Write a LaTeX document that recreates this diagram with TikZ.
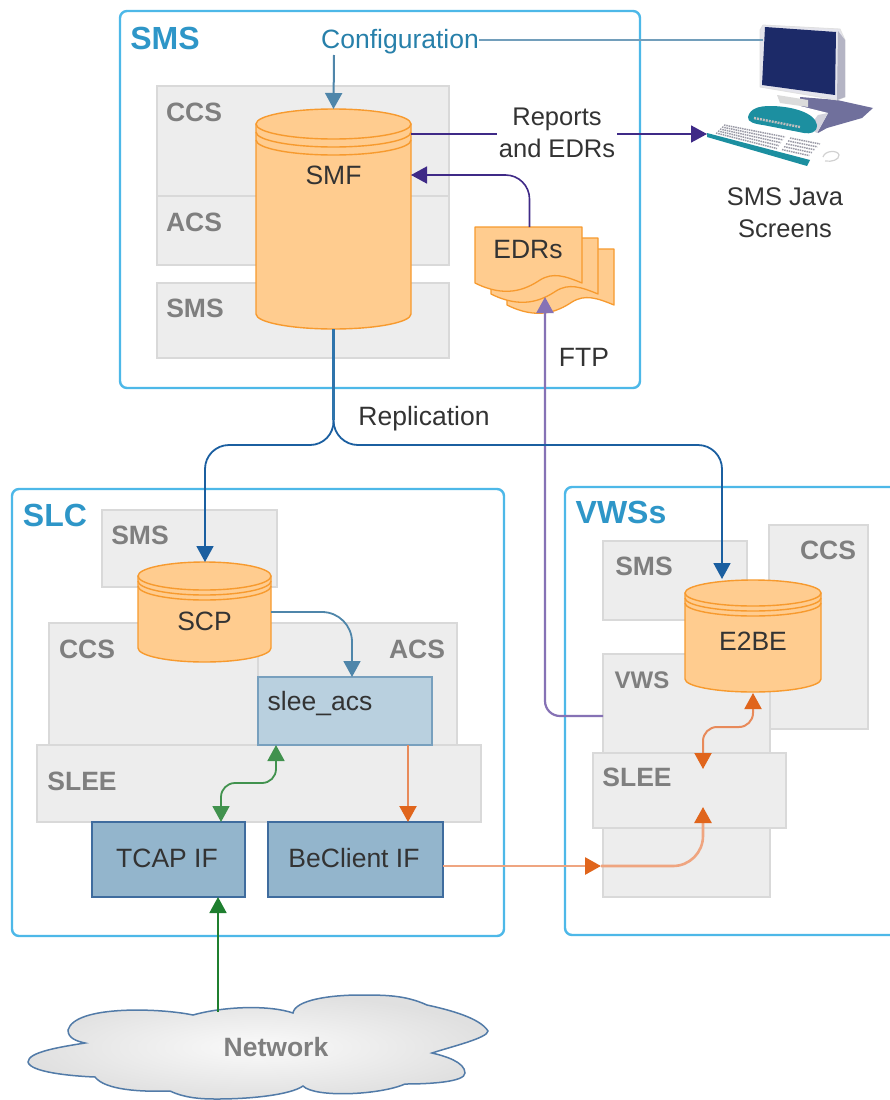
\documentclass[tikz,border=0pt]{standalone}
\usepackage{fontspec}
\setmainfont{Liberation Sans}
\usetikzlibrary{arrows.meta,calc}
\definecolor{grayfill}{HTML}{EDEDED}
\definecolor{grayline}{HTML}{D9D9D9}
\definecolor{graytext}{HTML}{7F7F7F}
\definecolor{skyline}{HTML}{4DB8E8}
\definecolor{titleblue}{HTML}{2E96C8}
\definecolor{cylfill}{HTML}{FFCC8F}
\definecolor{cylline}{HTML}{F79A2E}
\definecolor{textdark}{HTML}{333333}
\definecolor{aqua}{HTML}{4F86AA}
\definecolor{repl}{HTML}{1B5FA0}
\definecolor{replstem}{HTML}{2E74AC}
\definecolor{deepviolet}{HTML}{3F2A87}
\definecolor{softviolet}{HTML}{8672B5}
\definecolor{greenflow}{HTML}{1F7F2F}
\definecolor{orangetip}{HTML}{E0651C}
\definecolor{orangeline}{HTML}{E88A5A}
\definecolor{orangesoft}{HTML}{EFA580}
\definecolor{ifFill}{HTML}{93B5CC}
\definecolor{ifLine}{HTML}{3F6C9E}
\definecolor{acsFill}{HTML}{B9D0DF}
\definecolor{acsLine}{HTML}{78A0BE}
\definecolor{pcshadow}{HTML}{70709C}
\definecolor{pcbezel}{HTML}{E4E4EC}
\definecolor{pcside}{HTML}{B4B4C4}
\definecolor{pcscreen}{HTML}{1C2A68}
\definecolor{pcteal}{HTML}{1C8FA0}
\definecolor{pckey}{HTML}{9A9AA6}
\tikzset{
  x=1pt,y=-1pt,
  outerbox/.style={draw=skyline,line width=2.4pt,rounded corners=7pt},
  graybox/.style={draw=grayline,fill=grayfill,line width=1.2pt},
  ifbox/.style={draw=ifLine,fill=ifFill,line width=1.6pt},
  acsbox/.style={draw=acsLine,fill=acsFill,line width=1.2pt},
  title/.style={font=\fontsize{32}{34}\selectfont\bfseries,text=titleblue,inner sep=0pt},
  graylabel/.style={font=\fontsize{26.5}{28}\selectfont\bfseries,text=graytext,inner sep=0pt},
  darklabel/.style={font=\fontsize{26.5}{28}\selectfont,text=textdark,inner sep=0pt},
  flowtip/.style={-{Triangle[length=16pt,width=17pt]}},
  bothtip/.style={{Triangle[length=16pt,width=17pt]}-{Triangle[length=16pt,width=17pt]}},
  orangehead/.style={-{Triangle[length=16pt,width=17pt,color=orangetip,fill=orangetip]}},
  orangeboth/.style={{Triangle[length=16pt,width=17pt,color=orangetip,fill=orangetip]}-{Triangle[length=16pt,width=17pt,color=orangetip,fill=orangetip]}},
}
% box: style, name, x1,y1,x2,y2
\newcommand\pixbox[6]{%
  \node[#1,inner sep=0pt,outer sep=0pt,anchor=north west,
    minimum width={(#5-#3)*1pt},minimum height={(#6-#4)*1pt}] (#2) at (#3,#4) {};}
% cylinder: name,x1,ytop(outer),x2,ybottom(outer),ry,gap,label,labely
\newcommand\dbcyl[9]{%
  \pgfmathsetmacro\cx{(#2+#4)/2}\pgfmathsetmacro\rx{(#4-#2)/2}
  \pgfmathsetmacro\kx{0.5523*\rx}\pgfmathsetmacro\ky{0.5523*#6}
  \pgfmathsetmacro\yc{#3+#6}\pgfmathsetmacro\yb{#5-#6}
  \pgfmathsetmacro\ya{\yc+#7}\pgfmathsetmacro\yd{\yc+2*#7}
  \begin{scope}[draw=cylline,line width=1.4pt,line join=round]
  \draw[fill=cylfill] (#2,\yc) -- (#2,\yb)
    .. controls (#2,\yb+\ky) and (\cx-\kx,#5) .. (\cx,#5)
    .. controls (\cx+\kx,#5) and (#4,\yb+\ky) .. (#4,\yb)
    -- (#4,\yc) -- cycle;
  \draw[fill=cylfill] (\cx,\yc) ellipse [x radius=\rx,y radius=#6];
  \draw (#2,\ya) .. controls (#2,\ya+\ky) and (\cx-\kx,\ya+#6) .. (\cx,\ya+#6)
    .. controls (\cx+\kx,\ya+#6) and (#4,\ya+\ky) .. (#4,\ya);
  \draw (#2,\yd) .. controls (#2,\yd+\ky) and (\cx-\kx,\yd+#6) .. (\cx,\yd+#6)
    .. controls (\cx+\kx,\yd+#6) and (#4,\yd+\ky) .. (#4,\yd);
  \end{scope}
  \node[inner sep=0pt,outer sep=0pt,anchor=north west,
    minimum width={(#4-#2)*1pt},minimum height={(#5-#3)*1pt}] (#1) at (#2,#3) {};
  \node[darklabel] (#1label) at (\cx,#9) {#8};}
% one EDR sheet
\newcommand\edrsheet[2]{%
  \draw[draw=cylline,fill=cylfill,line width=1.3pt,line join=round,shift={(#1,#2)}]
    (475,227) -- (582,227) -- (582,283)
    .. controls (565,276) and (553,272) .. (540,280)
    .. controls (525,290) and (505,298) .. (475,283) -- cycle;}
\begin{document}
\begin{tikzpicture}
\useasboundingbox (0,0) rectangle (890,1100);
\fill[white] (0,0) rectangle (890,1100);

% ---- SMS area
\pixbox{outerbox}{smsouter}{120}{11}{640}{388}
\pixbox{graybox}{ccsa}{157}{86}{449}{223}
\pixbox{graybox}{acsa}{157}{196}{449}{265}
\pixbox{graybox}{smsa}{157}{283}{449}{358}
\node[title] (smstitle) at (165,38) {SMS};
\node[graylabel] (ccsalabel) at (194,112) {CCS};
\node[graylabel] (acsalabel) at (194,222) {ACS};
\node[graylabel] (smsalabel) at (195,308) {SMS};

% ---- SLC area
\pixbox{outerbox}{slcouter}{12}{489}{504}{936}
\pixbox{graybox}{smsb}{102}{510}{277}{587}
\pixbox{graybox}{ccsb}{49}{623}{258}{745}
\pixbox{graybox}{acsb}{258}{623}{457}{745}
\pixbox{graybox}{sleeb}{37}{745}{481}{822}
\pixbox{acsbox}{sleeacs}{258}{677}{432}{745}
\pixbox{ifbox}{tcap}{92}{822}{245}{897}
\pixbox{ifbox}{beclient}{268}{822}{443}{897}
\node[title] (slctitle) at (55,515) {SLC};
\node[graylabel] (smsblabel) at (140,535) {SMS};
\node[graylabel] (ccsblabel) at (87,649) {CCS};
\node[graylabel] (acsblabel) at (417,649) {ACS};
\node[graylabel] (sleeblabel) at (82,781) {SLEE};
\node[darklabel] (sleeacslabel) at (320,704) {slee\_acs};
\node[darklabel] (tcaplabel) at (167,858) {TCAP IF};
\node[darklabel] (beclientlabel) at (354,858) {BeClient IF};

% ---- VWS area
\draw[draw=skyline,line width=2.4pt,rounded corners=7pt] (890,487) -- (565,487) -- (565,935) -- (890,935);
\pixbox{graybox}{smsc}{603}{541}{747}{620}
\pixbox{graybox}{ccsc}{769}{525}{868}{729}
\pixbox{graybox}{vwsc}{603}{654}{770}{897}
\pixbox{graybox}{sleec}{593}{753}{786}{828}
\node[title] (vwstitle) at (621,512) {VWSs};
\node[graylabel] (smsclabel) at (644,566) {SMS};
\node[graylabel] (ccsclabel) at (828,550) {CCS};
\node[graylabel,font=\fontsize{24}{26}\selectfont\bfseries] (vwsclabel) at (642,680) {VWS};
\node[graylabel] (sleeclabel) at (637,777) {SLEE};

% ---- Cylinders
\dbcyl{smf}{256}{109}{411}{329}{15}{8}{SMF}{175}
\dbcyl{scp}{138}{562}{271}{662}{14}{5}{SCP}{621}
\dbcyl{etobe}{685}{580}{821}{692}{13}{5}{E2BE}{641}

% ---- EDR documents
\edrsheet{32}{22}
\edrsheet{16}{11}
\edrsheet{0}{0}
\node[inner sep=0pt,outer sep=0pt,anchor=north west,minimum width=107pt,minimum height=56pt] (edrs) at (475,227) {};
\node[darklabel] (edrslabel) at (528,250) {EDRs};

% ---- Computer
\fill[pcshadow] (800,97) -- (837,100) -- (873,108) -- (862,118) -- (827,128) -- (818,133) -- (800,120) -- cycle;
\fill[white] (776,100) -- (828,113) -- (817,133) -- (770,118) -- cycle;
\fill[pcside!60] (828,113) -- (817,133) -- (808,128) -- (818,115) -- cycle;
\filldraw[draw=black!12,fill=pcbezel,line width=.8pt,line join=round] (760,30) -- (763,25) -- (840,29) -- (845,40) -- (845,97) -- (837,100) -- (760,87) -- cycle;
\fill[pcside] (838,31) -- (845,40) -- (845,97) -- (837,100) -- cycle;
\fill[pcscreen] (765,27) -- (836,32) -- (835,95) -- (762,85) -- cycle;
\fill[black!14] (777,95) -- (808,100) -- (808,107) -- (780,103) -- cycle;
\fill[pcteal] (748,117) .. controls (750,108) and (760,106) .. (770,106)
  .. controls (790,106) and (815,112) .. (817,125) .. controls (817,133) and (810,134) .. (804,133)
  -- (763,125) .. controls (755,124) and (747,122) .. (748,117) -- cycle;
\draw[black!25,line width=2.4pt,dash pattern=on 2pt off 1pt] (754,118) -- (800,127);
\fill[white] (720,123) -- (825,143) -- (810,160) -- (707,133) -- cycle;
\fill[pcteal] (707,133) -- (810,160) -- (807,166) -- (707,137) -- cycle;
\foreach \i in {0,1,2,3,4}{
  \draw[pckey,line width=1.5pt,dash pattern=on 1.5pt off .8pt] ($(724,125)!\i/4.5!(715,134)$) -- ($(785,137)!\i/4.5!(776,150)$);
  \draw[pckey,line width=1.5pt,dash pattern=on 1.5pt off .8pt] ($(790,138)!\i/4.5!(781,151)$) -- ($(820,144)!\i/4.5!(808,157)$);
}
\draw[black!18,line width=1.2pt] (823,157) .. controls (825,150) and (838,150) .. (839,155) .. controls (839,160) and (832,162) .. (825,161);
\coordinate (pcscreenport) at (763,40);
\coordinate (pckeys) at (707,134);
\node[darklabel,align=center,font=\fontsize{25.5}{32}\selectfont] (pclabel) at (785,213) {SMS Java\\Screens};

% ---- Network cloud
\draw[draw=ifLine!90!white,line width=1.5pt,inner color=black!2,outer color=black!12]
  (193,1015) .. controls (160,1008) and (75,1005) .. (68,1030)
  .. controls (68,1038) and (76,1041) .. (85,1043)
  .. controls (60,1047) and (28,1052) .. (28,1062)
  .. controls (30,1072) and (70,1076) .. (95,1077)
  .. controls (105,1090) and (140,1092) .. (170,1091)
  .. controls (185,1098) and (200,1099) .. (217,1099)
  .. controls (250,1099) and (290,1095) .. (303,1086)
  .. controls (315,1098) and (380,1095) .. (405,1084)
  .. controls (430,1084) and (465,1082) .. (465,1073)
  .. controls (465,1062) and (445,1056) .. (432,1053)
  .. controls (450,1047) and (488,1038) .. (488,1031)
  .. controls (480,1018) and (450,1010) .. (427,1005)
  .. controls (405,995) and (385,995) .. (360,995)
  .. controls (330,995) and (295,1000) .. (293,1013)
  .. controls (270,1005) and (225,1006) .. (193,1015) -- cycle;
\node[inner sep=0pt,outer sep=0pt,minimum width=0pt] (netport) at (218,1012) {};
\node[graylabel] (network) at (276,1047) {Network};

% ---- Connectors
\node[darklabel,text=titleblue!85!black] (config) at (400,42) {Configuration};
\draw[aqua!80!white,line width=2pt] (config.east |- pcscreenport) -- (pcscreenport);
\draw[flowtip,aqua,line width=2pt] (334,55) -- (smf.north);
\draw[flowtip,deepviolet,line width=1.6pt] ($(smf.east)+(0,-85)$) -- (pckeys |- {$(smf.east)+(0,-85)$})
  node[midway,fill=white,darklabel,align=center,inner xsep=2pt,inner ysep=0pt,font=\fontsize{25.5}{32}\selectfont,xshift=-2pt,yshift=1pt] (reports) {Reports\\and EDRs};
\draw[flowtip,deepviolet,line width=1.6pt,rounded corners=24pt] (edrs.north) ++(1,0) coordinate (edrup) -- ++(0,-52) -- ($(smf.east)+(0,-44)$);
\coordinate (ftpbend) at (545,716);
\draw[flowtip,softviolet,line width=2.2pt,rounded corners=15pt] (vwsc.west |- ftpbend) -- (ftpbend) -- (545,297);
\node[darklabel] (ftp) at (584,357) {FTP};
\coordinate (replsplit) at (smf.south |- 0,420);
\draw[replstem,line width=3.2pt] (smf.south) -- (replsplit);
\draw[flowtip,repl,line width=1.8pt,rounded corners=24pt] (replsplit) -- (334,445) -- (205,445) -- (205,562);
\draw[flowtip,repl,line width=1.8pt,rounded corners=24pt] (replsplit) -- (334,445) -- (722,445) -- (722,579);
\node[darklabel] (replication) at (424,419) {Replication};
\draw[flowtip,aqua,line width=1.8pt,rounded corners=30pt] (scp.east |- 0,612) -- (352,612) -- (352,677);
\draw[bothtip,greenflow!85!white,line width=1.8pt,rounded corners=14pt] (221,822) -- (221,783) -- (276,783) -- (276,745);
\draw[orangehead,draw=orangeline,line width=2.2pt] (408,745) -- (408,822);
\draw[flowtip,greenflow,line width=1.8pt] (netport.north) -- (218,897);
\coordinate (bemid) at (601,866);
\draw[orangehead,draw=orangesoft,line width=2.8pt] (beclient.east |- bemid) -- (bemid);
\draw[orangehead,draw=orangesoft,line width=2.6pt,rounded corners=30pt] (bemid) -- (703,866) -- (703,807);
\draw[orangeboth,draw=orangeline,line width=2pt,rounded corners=14pt] (703,769) -- (703,727) -- (753,727) -- (753,693);
\end{tikzpicture}
\end{document}
